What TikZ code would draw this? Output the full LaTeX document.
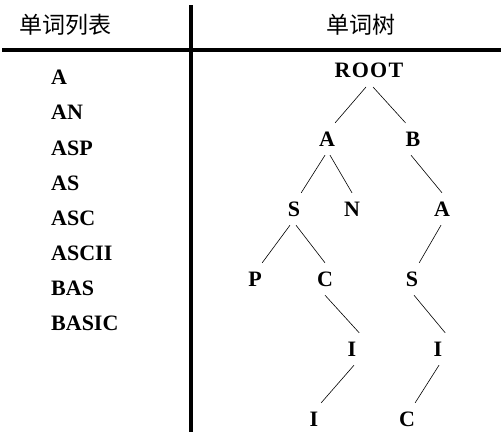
\documentclass[tikz,border=0pt]{standalone}
\usepackage{fontspec}
\setmainfont{Liberation Serif}
\newfontfamily\cjk{Noto Sans CJK SC}
\begin{document}
\begin{tikzpicture}[x=1pt,y=-1pt,
  lt/.style={font=\fontsize{22}{24}\selectfont\bfseries, inner sep=0pt, anchor=west},
  tn/.style={font=\fontsize{22}{24}\selectfont\bfseries, inner sep=0pt, minimum height=32pt, minimum width=14pt},
  hd/.style={font=\fontsize{23}{26}\selectfont\cjk, inner sep=0pt},
  rule/.style={line width=3.5pt},
  edge/.style={line width=0.6pt}]
\useasboundingbox (0,0) rectangle (503,445);
\fill[white] (0,0) rectangle (503,445);
\coordinate (vt) at (191,5);
\coordinate (vb) at (191,432);
\coordinate (hl) at (2,50);
\coordinate (hr) at (501,50);
\draw[rule] (vt) -- (vb);
\draw[rule] (hl) -- (hr);
\node[hd] (h1) at (65,25) {单词列表};
\node[hd] (h2) at (361,25) {单词树};
\node[lt] (w1) at (51,77) {A};
\node[lt] (w2) at (51,112) {AN};
\node[lt] (w3) at (51,148) {ASP};
\node[lt] (w4) at (51,183) {AS};
\node[lt] (w5) at (51,218) {ASC};
\node[lt] (w6) at (51,253) {ASCII};
\node[lt] (w7) at (51,288) {BAS};
\node[lt] (w8) at (51,323) {BASIC};
\node[tn, font=\fontsize{22}{24}\selectfont\bfseries\addfontfeature{LetterSpace=6}] (root) at (369,70) {ROOT};
\node[tn] (a) at (327,139) {A};
\node[tn] (b) at (413,139) {B};
\node[tn] (s) at (294,209) {S};
\node[tn] (n) at (352,209) {N};
\node[tn] (a2) at (442,209) {A};
\node[tn] (p) at (255,279) {P};
\node[tn] (c) at (325,279) {C};
\node[tn] (s2) at (412,279) {S};
\node[tn] (i) at (352,349) {I};
\node[tn] (i2) at (438,349) {I};
\node[tn] (i3) at (314,419) {I};
\node[tn] (c2) at (407,419) {C};
\draw[edge] (366,87) -- (a.north east);
\draw[edge] (373,87) -- (b.north west);
\draw[edge] (a.south) ++(-2,0) -- (s.north east);
\draw[edge] (a.south) ++(3,0) -- (n.north);
\draw[edge] (b.south) ++(-2,0) -- (a2.north);
\draw[edge] (s.south) ++(-4,0) -- (p.north east);
\draw[edge] (s.south) ++(2,0) -- (c.north);
\draw[edge] (a2.south) ++(-1,0) -- (s2.north east);
\draw[edge] (c.south) -- (i.north east);
\draw[edge] (s2.south) ++(2,0) -- (i2.north east);
\draw[edge] (i.south) ++(2,0) -- (i3.north east);
\draw[edge] (i2.south) ++(1,0) -- (c2.north east);
\end{tikzpicture}
\end{document}
